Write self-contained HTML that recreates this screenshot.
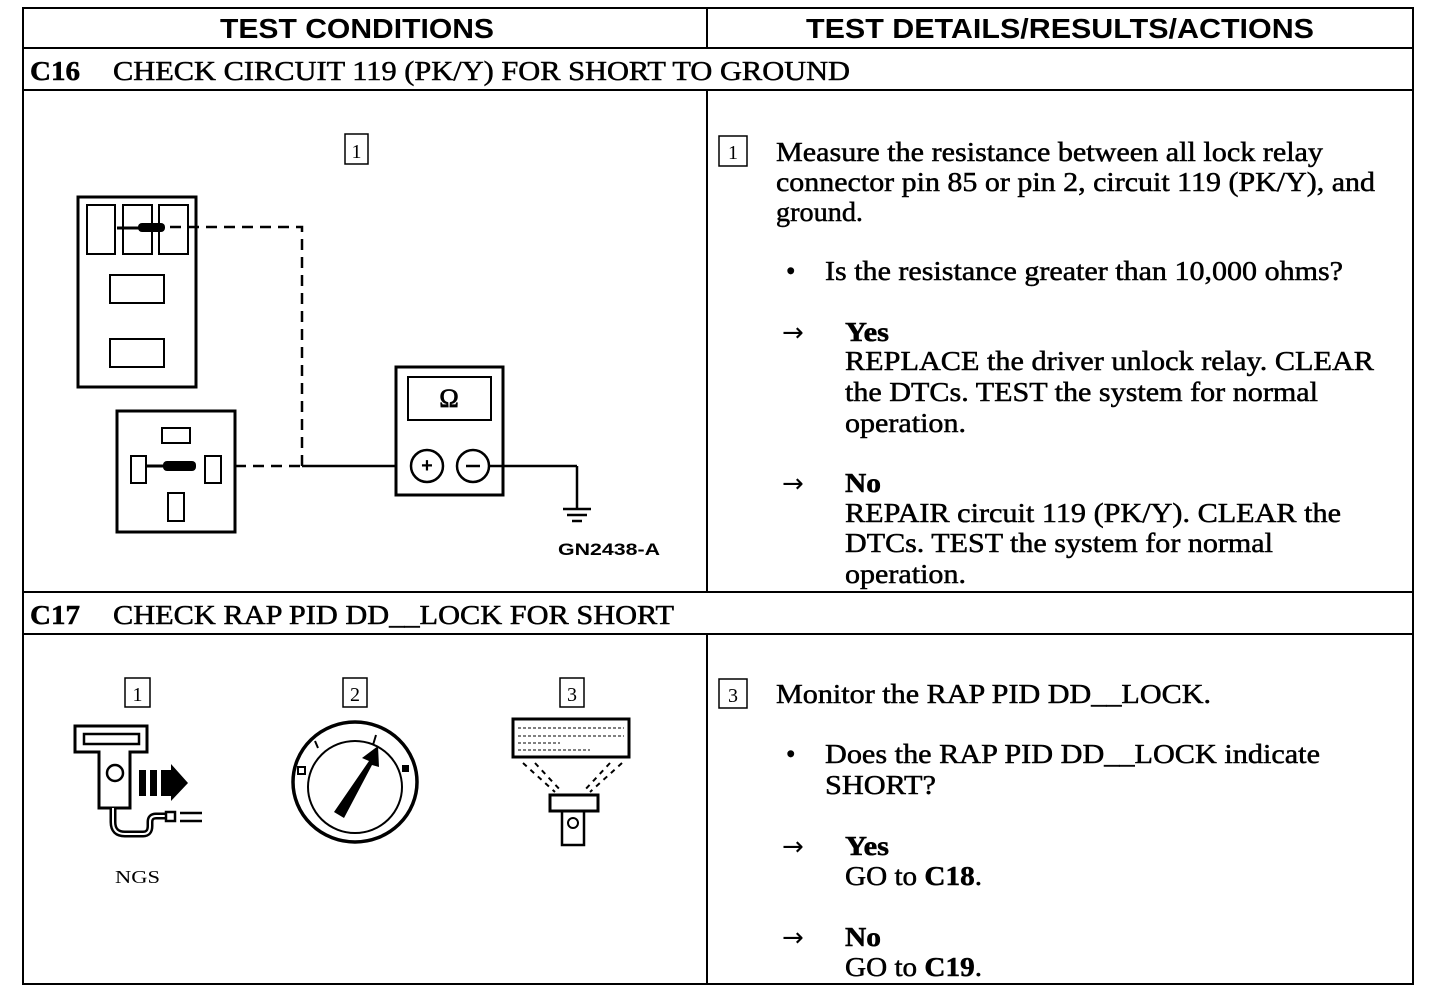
<!DOCTYPE html>
<html><head><meta charset="utf-8"><style>
html,body{margin:0;padding:0;background:#fff;}
svg{display:block}
.t{font-family:"Liberation Serif",serif;font-size:27px;fill:#000;stroke:#000;stroke-width:0.5}
.a{font-family:"DejaVu Sans",sans-serif;font-size:26px;fill:#000}
.h{font-family:"Liberation Sans",sans-serif;font-weight:bold;font-size:28px;fill:#000}
</style></head><body>
<svg width="1456" height="992" viewBox="0 0 1456 992" xmlns="http://www.w3.org/2000/svg">
<g stroke="#000" stroke-width="2" fill="none">
<rect x="23" y="8" width="1390" height="976"/>
<line x1="23" y1="48" x2="1413" y2="48"/>
<line x1="23" y1="90" x2="1413" y2="90"/>
<line x1="23" y1="592" x2="1413" y2="592"/>
<line x1="23" y1="634" x2="1413" y2="634"/>
<line x1="707" y1="8" x2="707" y2="48"/>
<line x1="707" y1="90" x2="707" y2="592"/>
<line x1="707" y1="634" x2="707" y2="984"/>
</g>
<text class="h" x="220" y="38" textLength="274" lengthAdjust="spacingAndGlyphs">TEST CONDITIONS</text>
<text class="h" x="806" y="38" textLength="508" lengthAdjust="spacingAndGlyphs">TEST DETAILS/RESULTS/ACTIONS</text>
<text class="t" x="30" y="80" font-weight="bold" textLength="50" lengthAdjust="spacingAndGlyphs">C16</text>
<text class="t" x="113" y="80" textLength="737" lengthAdjust="spacingAndGlyphs">CHECK CIRCUIT 119 (PK/Y) FOR SHORT TO GROUND</text>
<text class="t" x="30" y="624" font-weight="bold" textLength="50" lengthAdjust="spacingAndGlyphs">C17</text>
<text class="t" x="113" y="624" textLength="561" lengthAdjust="spacingAndGlyphs">CHECK RAP PID DD__LOCK FOR SHORT</text>

<!-- C16 diagram -->
<g stroke="#000" fill="none">
<rect x="345" y="134" width="23" height="30" stroke-width="1.5"/>
<rect x="78" y="197" width="118" height="190" stroke-width="3"/>
<rect x="87" y="205" width="28" height="49" stroke-width="2"/>
<rect x="123" y="205" width="29" height="49" stroke-width="2"/>
<rect x="159" y="205" width="29" height="49" stroke-width="2"/>
<rect x="110" y="275" width="54" height="28" stroke-width="2"/>
<rect x="110" y="339" width="54" height="28" stroke-width="2"/>
<line x1="117" y1="228" x2="140" y2="228" stroke-width="3"/>
<rect x="138" y="223" width="27" height="9" rx="4" fill="#000" stroke="none"/>
<path d="M170 227 H302 V466" stroke-width="2.5" stroke-dasharray="11,7"/>
<rect x="117" y="411" width="118" height="121" stroke-width="3"/>
<rect x="162" y="428" width="28" height="15" stroke-width="2"/>
<rect x="131" y="456" width="15" height="27" stroke-width="2"/>
<rect x="205" y="456" width="16" height="27" stroke-width="2"/>
<rect x="168" y="493" width="16" height="28" stroke-width="2"/>
<line x1="146" y1="466" x2="165" y2="466" stroke-width="3"/>
<rect x="163" y="461" width="33" height="10" rx="4" fill="#000" stroke="none"/>
<line x1="235" y1="466" x2="302" y2="466" stroke-width="2.5" stroke-dasharray="11,7"/>
<line x1="302" y1="466" x2="396" y2="466" stroke-width="2.5"/>
<rect x="396" y="367" width="107" height="128" stroke-width="3"/>
<rect x="408" y="377" width="83" height="43" stroke-width="2"/>
<circle cx="427" cy="466" r="16" stroke-width="2.5"/>
<circle cx="473" cy="466" r="16" stroke-width="2.5"/>
<line x1="489" y1="466" x2="577" y2="466" stroke-width="2.5"/>
<line x1="577" y1="466" x2="577" y2="509" stroke-width="2.5"/>
<line x1="563" y1="509" x2="591" y2="509" stroke-width="2.5"/>
<line x1="567" y1="515" x2="587" y2="515" stroke-width="2.5"/>
<line x1="572" y1="521" x2="582" y2="521" stroke-width="2.5"/>
</g>
<text x="356.5" y="158" text-anchor="middle" font-family="Liberation Serif,serif" font-size="20">1</text>
<text x="449" y="407" text-anchor="middle" font-family="Liberation Serif,serif" font-size="26" stroke="#000" stroke-width="0.8">Ω</text>
<text x="427" y="472" text-anchor="middle" font-family="Liberation Sans,sans-serif" font-weight="bold" font-size="20">+</text>
<line x1="466" y1="466" x2="480" y2="466" stroke="#000" stroke-width="2.5"/>
<text x="558" y="555" font-family="Liberation Sans,sans-serif" font-weight="bold" font-size="17" textLength="102" lengthAdjust="spacingAndGlyphs">GN2438-A</text>

<!-- C16 right -->
<rect x="719" y="136" width="28" height="30" fill="none" stroke="#000" stroke-width="1.5"/>
<text x="733" y="159" text-anchor="middle" font-family="Liberation Serif,serif" font-size="20">1</text>
<text class="t" x="776" y="161" textLength="547" lengthAdjust="spacingAndGlyphs">Measure the resistance between all lock relay</text>
<text class="t" x="776" y="191" textLength="599" lengthAdjust="spacingAndGlyphs">connector pin 85 or pin 2, circuit 119 (PK/Y), and</text>
<text class="t" x="776" y="221" textLength="87" lengthAdjust="spacingAndGlyphs">ground.</text>
<text class="t" x="786" y="280">•</text>
<text class="t" x="825" y="280" textLength="518" lengthAdjust="spacingAndGlyphs">Is the resistance greater than 10,000 ohms?</text>
<text class="a" x="782" y="341">→</text>
<text class="t" x="845" y="341" font-weight="bold" textLength="44" lengthAdjust="spacingAndGlyphs">Yes</text>
<text class="t" x="845" y="370" textLength="529" lengthAdjust="spacingAndGlyphs">REPLACE the driver unlock relay. CLEAR</text>
<text class="t" x="845" y="401" textLength="473" lengthAdjust="spacingAndGlyphs">the DTCs. TEST the system for normal</text>
<text class="t" x="845" y="432" textLength="121" lengthAdjust="spacingAndGlyphs">operation.</text>
<text class="a" x="782" y="492">→</text>
<text class="t" x="845" y="492" font-weight="bold" textLength="36" lengthAdjust="spacingAndGlyphs">No</text>
<text class="t" x="845" y="522" textLength="496" lengthAdjust="spacingAndGlyphs">REPAIR circuit 119 (PK/Y). CLEAR the</text>
<text class="t" x="845" y="552" textLength="428" lengthAdjust="spacingAndGlyphs">DTCs. TEST the system for normal</text>
<text class="t" x="845" y="583" textLength="121" lengthAdjust="spacingAndGlyphs">operation.</text>

<!-- C17 left -->
<g stroke="#000" fill="none" stroke-width="1.5">
<rect x="125" y="678" width="25" height="29"/>
<rect x="343" y="678" width="24" height="29"/>
<rect x="560" y="678" width="24" height="29"/>
</g>
<text x="137.5" y="701" text-anchor="middle" font-family="Liberation Serif,serif" font-size="20">1</text>
<text x="355" y="701" text-anchor="middle" font-family="Liberation Serif,serif" font-size="20">2</text>
<text x="572" y="701" text-anchor="middle" font-family="Liberation Serif,serif" font-size="20">3</text>
<g stroke="#000" fill="none">
<path d="M75 726 H147 V752 H130 V808 H99 V752 H75 Z" stroke-width="3"/>
<rect x="84" y="734" width="55" height="10" stroke-width="2.5"/>
<circle cx="115" cy="773" r="8" stroke-width="2.5"/>
<path d="M113 808 V822 Q113 834 125 834 H143 Q150 834 150 826 V822 Q150 816 156 816 H166" stroke-width="7"/>
<path d="M113 808 V822 Q113 834 125 834 H143 Q150 834 150 826 V822 Q150 816 156 816 H166" stroke="#fff" stroke-width="2"/>
<rect x="166" y="812" width="9" height="9" stroke-width="2.5"/>
<line x1="180" y1="813" x2="202" y2="813" stroke-width="2.5"/>
<line x1="180" y1="821" x2="202" y2="821" stroke-width="2.5"/>
</g>
<rect x="139" y="770" width="7" height="26" fill="#000"/>
<rect x="150" y="770" width="7" height="26" fill="#000"/>
<rect x="161" y="770" width="10" height="26" fill="#000"/>
<path d="M171 764 L188 783 L171 801 Z" fill="#000"/>
<text x="115" y="883" font-family="Liberation Serif,serif" font-size="18" textLength="45" lengthAdjust="spacingAndGlyphs">NGS</text>
<g stroke="#000" fill="none">
<ellipse cx="355" cy="782" rx="62" ry="60" stroke-width="3.5"/>
<ellipse cx="355" cy="787" rx="47" ry="46" stroke-width="2"/>
</g>
<path d="M334 812 L344 818 L372 765 L379 767 L378 746 L362 758 L369 761 Z" fill="#000"/>
<g stroke="#000" stroke-width="2"><line x1="315" y1="741" x2="318" y2="748"/><line x1="376" y1="735" x2="373" y2="745"/></g>
<rect x="298" y="767" width="7" height="7" fill="none" stroke="#000" stroke-width="2"/>
<rect x="402" y="765" width="7" height="7" fill="#000"/>
<g stroke="#000" fill="none">
<rect x="513" y="719" width="116" height="38" stroke-width="3"/>
<g stroke-width="1" stroke-dasharray="3,2"><line x1="518" y1="728" x2="624" y2="728"/><line x1="518" y1="736" x2="624" y2="736"/><line x1="518" y1="743" x2="560" y2="743"/><line x1="518" y1="750" x2="590" y2="750"/></g>
<g stroke-width="2" stroke-dasharray="5,5">
<line x1="523" y1="763" x2="555" y2="792"/><line x1="535" y1="763" x2="562" y2="792"/>
<line x1="622" y1="763" x2="590" y2="792"/><line x1="610" y1="763" x2="583" y2="792"/>
</g>
<rect x="550" y="795" width="48" height="16" stroke-width="3"/>
<rect x="562" y="811" width="22" height="34" stroke-width="2.5"/>
<circle cx="573" cy="823" r="5" stroke-width="2"/>
</g>

<!-- C17 right -->
<rect x="719" y="679" width="28" height="29" fill="none" stroke="#000" stroke-width="1.5"/>
<text x="733" y="702" text-anchor="middle" font-family="Liberation Serif,serif" font-size="20">3</text>
<text class="t" x="776" y="703" textLength="435" lengthAdjust="spacingAndGlyphs">Monitor the RAP PID DD__LOCK.</text>
<text class="t" x="786" y="763">•</text>
<text class="t" x="825" y="763" textLength="495" lengthAdjust="spacingAndGlyphs">Does the RAP PID DD__LOCK indicate</text>
<text class="t" x="825" y="794" textLength="111" lengthAdjust="spacingAndGlyphs">SHORT?</text>
<text class="a" x="782" y="855">→</text>
<text class="t" x="845" y="855" font-weight="bold" textLength="44" lengthAdjust="spacingAndGlyphs">Yes</text>
<text class="t" x="845" y="885" textLength="137" lengthAdjust="spacingAndGlyphs">GO to <tspan font-weight="bold">C18</tspan>.</text>
<text class="a" x="782" y="946">→</text>
<text class="t" x="845" y="946" font-weight="bold" textLength="36" lengthAdjust="spacingAndGlyphs">No</text>
<text class="t" x="845" y="976" textLength="137" lengthAdjust="spacingAndGlyphs">GO to <tspan font-weight="bold">C19</tspan>.</text>
</svg>
</body></html>
